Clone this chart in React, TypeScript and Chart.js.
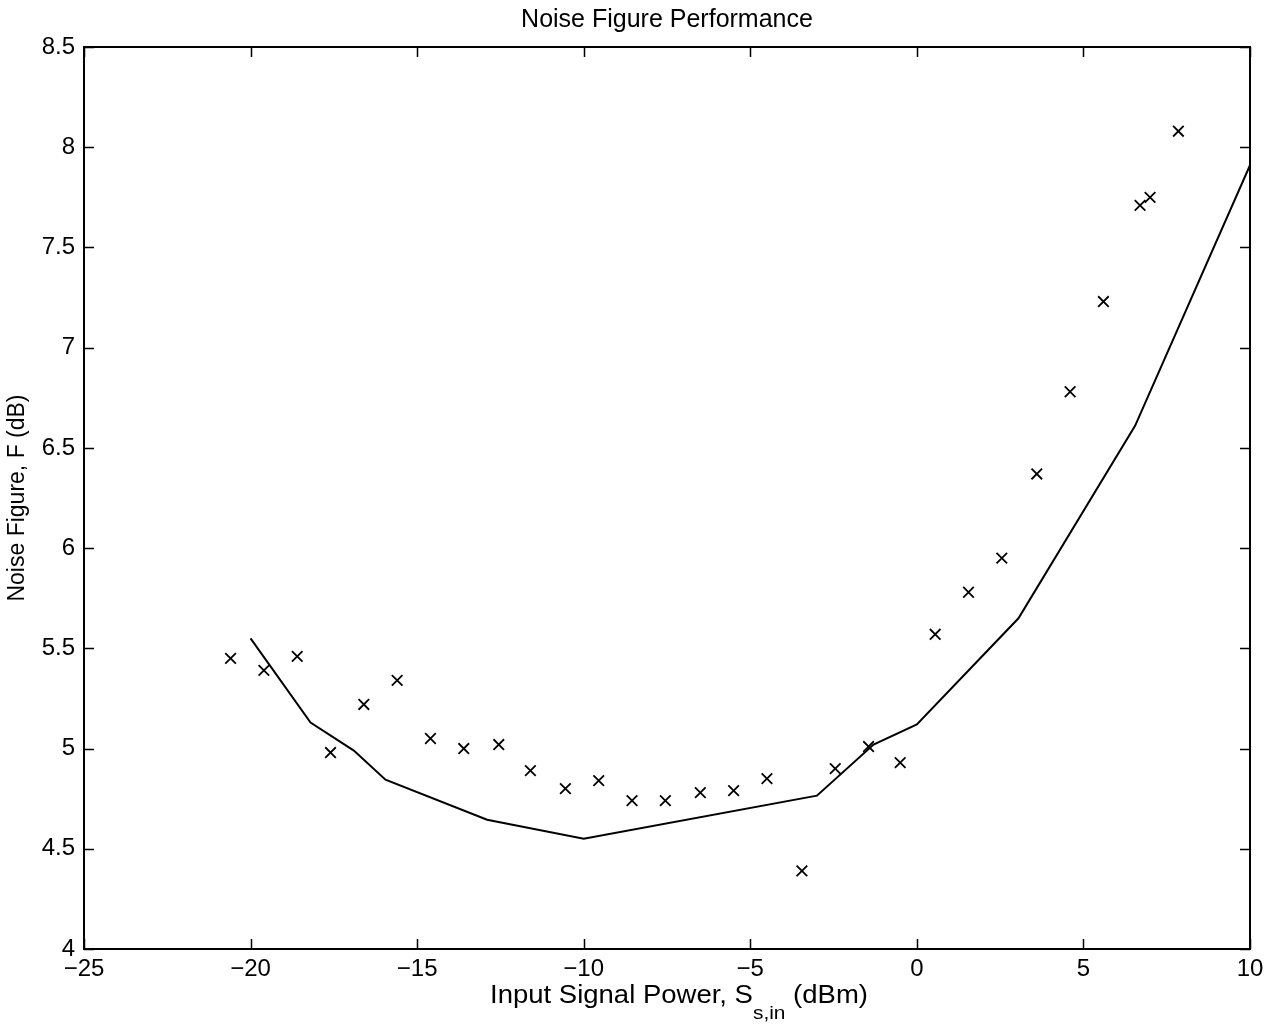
import { useEffect, useRef } from 'react';
import { Chart, registerables } from 'chart.js';

Chart.register(...registerables);

// ---- Text ----
const TITLE = 'Noise Figure Performance';
const Y_LABEL = 'Noise Figure, F (dB)';
const X_LABEL_MAIN = 'Input Signal Power, S';
const X_LABEL_SUB = 's,in';
const X_LABEL_END = ' (dBm)';

// ---- Axis ranges / ticks ----
const X_MIN = -25;
const X_MAX = 10;
const X_STEP = 5;
const Y_MIN = 4;
const Y_MAX = 8.5;
const Y_STEP = 0.5;

// ---- Measured data (x markers) ----
const measuredX = [
  -20.6, -19.6, -18.6, -17.6, -16.6, -15.6, -14.6, -13.6, -12.55, -11.6,
  -10.55, -9.55, -8.55, -7.55, -6.5, -5.5, -4.5, -3.45, -2.45, -1.45,
  -0.5, 0.55, 1.55, 2.55, 3.6, 4.6, 5.6, 6.7, 7.0, 7.85,
];
const measuredY = [
  5.45, 5.39, 5.46, 4.98, 5.22, 5.34, 5.05, 5.0, 5.02, 4.89,
  4.8, 4.84, 4.74, 4.74, 4.78, 4.79, 4.85, 4.39, 4.9, 5.01,
  4.93, 5.57, 5.78, 5.95, 6.37, 6.78, 7.23, 7.71, 7.75, 8.08,
];

// ---- Predicted curve (solid line) ----
const predictedX = [-20, -18.2, -16.9, -15.95, -12.9, -10, -3, -1.3, 0, 3.05, 6.55, 10];
const predictedY = [5.55, 5.13, 4.99, 4.845, 4.645, 4.55, 4.765, 5.02, 5.12, 5.65, 6.61, 7.91];

const FONT = '"Liberation Sans", Arial, Helvetica, sans-serif';

const framePlugin = {
  id: 'matlabFrame',
  afterDraw(chart: any) {
    const { ctx, chartArea: a, scales } = chart;
    const xs = scales.x;
    const ys = scales.y;
    ctx.save();
    ctx.strokeStyle = '#000';
    ctx.lineWidth = 2;
    ctx.strokeRect(a.left, a.top, a.right - a.left, a.bottom - a.top);
    ctx.lineWidth = 1.5;
    const tl = 10;
    ctx.beginPath();
    xs.ticks.forEach((t: any) => {
      const px = Math.round(xs.getPixelForValue(t.value)) + 0.5;
      ctx.moveTo(px, a.bottom);
      ctx.lineTo(px, a.bottom - tl);
      ctx.moveTo(px, a.top);
      ctx.lineTo(px, a.top + tl);
    });
    ys.ticks.forEach((t: any) => {
      const py = Math.round(ys.getPixelForValue(t.value)) + 0.5;
      ctx.moveTo(a.left, py);
      ctx.lineTo(a.left + tl, py);
      ctx.moveTo(a.right, py);
      ctx.lineTo(a.right - tl, py);
    });
    ctx.stroke();

    // x-axis label with subscript (slightly widened like the scanned original)
    ctx.fillStyle = '#000';
    ctx.textBaseline = 'alphabetic';
    ctx.textAlign = 'left';
    const stretch = 1.1;
    const mainFont = `25px ${FONT}`;
    const subFont = `19px ${FONT}`;
    ctx.font = mainFont;
    const w1 = ctx.measureText(X_LABEL_MAIN).width;
    const w3 = ctx.measureText(X_LABEL_END).width;
    ctx.font = subFont;
    const w2 = ctx.measureText(X_LABEL_SUB).width;
    const total = (w1 + w2 + w3) * stretch;
    const cx = (a.left + a.right) / 2 + 12;
    const base = 1003;
    ctx.translate(cx - total / 2, base);
    ctx.scale(stretch, 1);
    let x0 = 0;
    ctx.font = mainFont;
    ctx.fillText(X_LABEL_MAIN, x0, 0);
    x0 += w1;
    ctx.font = subFont;
    ctx.fillText(X_LABEL_SUB, x0, 16);
    x0 += w2;
    ctx.font = mainFont;
    ctx.fillText(X_LABEL_END, x0, 0);
    ctx.restore();
  },
};

export default function App() {
  const canvasRef = useRef<HTMLCanvasElement | null>(null);

  useEffect(() => {
    const canvas = canvasRef.current;
    if (!canvas) return;
    const measured = measuredX.map((x, i) => ({ x, y: measuredY[i] }));
    const predicted = predictedX.map((x, i) => ({ x, y: predictedY[i] }));

    const chart = new Chart(canvas, {
      type: 'scatter',
      data: {
        datasets: [
          {
            label: 'Predicted',
            data: predicted,
            showLine: true,
            borderColor: '#000',
            backgroundColor: '#000',
            borderWidth: 2,
            pointRadius: 0,
            tension: 0,
          },
          {
            label: 'Measured',
            data: measured,
            showLine: false,
            pointStyle: 'crossRot',
            pointRadius: 7.5,
            borderColor: '#000',
            backgroundColor: '#000',
            pointBorderWidth: 1.8,
          },
        ],
      },
      options: {
        animation: false,
        responsive: true,
        maintainAspectRatio: false,
        layout: { padding: { top: 0, right: 28, bottom: 0, left: 0 } },
        plugins: {
          legend: { display: false },
          tooltip: { enabled: false },
          title: {
            display: true,
            text: TITLE,
            fullSize: false,
            color: '#000',
            font: { family: FONT, size: 25, weight: 'normal' },
            padding: { top: 5, bottom: 12 },
          },
        },
        scales: {
          x: {
            type: 'linear',
            min: X_MIN,
            max: X_MAX,
            grid: { display: false, drawTicks: false },
            border: { display: false },
            ticks: {
              stepSize: X_STEP,
              color: '#000',
              padding: 6,
              maxRotation: 0,
              font: { family: FONT, size: 24 },
              callback: (v: any) => (Number(v) < 0 ? '\u2212' + Math.abs(Number(v)) : String(v)),
            },
            afterFit: (scale: any) => {
              scale.height = 77;
            },
          },
          y: {
            type: 'linear',
            min: Y_MIN,
            max: Y_MAX,
            grid: { display: false, drawTicks: false },
            border: { display: false },
            ticks: {
              stepSize: Y_STEP,
              color: '#000',
              padding: 9,
              font: { family: FONT, size: 24 },
              callback: (v: any) => String(Number(v)),
            },
            title: {
              display: true,
              text: Y_LABEL,
              color: '#000',
              font: { family: FONT, size: 23 },
              padding: { top: 4, bottom: 4 },
            },
            afterFit: (scale: any) => {
              scale.width = 84;
            },
          },
        },
      },
      plugins: [framePlugin],
    });
    return () => chart.destroy();
  }, []);

  return (
    <div style={{ position: 'fixed', left: 0, top: 0, width: 1278, height: 1026, background: '#fff' }}>
      <canvas ref={canvasRef} />
    </div>
  );
}
